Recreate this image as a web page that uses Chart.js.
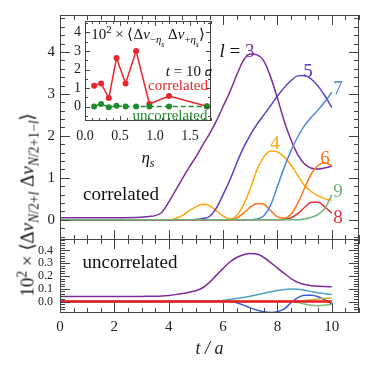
<!DOCTYPE html>
<html>
<head>
<meta charset="utf-8">
<script src="https://cdn.jsdelivr.net/npm/chart.js@4.4.1/dist/chart.umd.min.js"></script>
<style>
  html, body { margin: 0; padding: 0; background: #fff; }
  #wrap { position: relative; width: 374px; height: 374px; overflow: hidden; font-family: "Liberation Serif", serif; color: #111; }
  canvas { position: absolute; }
  .lbl { position: absolute; transform: translate(-50%, -50%); white-space: nowrap; line-height: 1; }
  .lbl sub, .lbl sup { font-size: 72%; line-height: 0; }
  i { font-style: italic; }
</style>
</head>
<body>
<div id="wrap">
  <canvas id="top" width="374" height="262" style="left:0;top:0"></canvas>
  <canvas id="bot" width="374" height="155" style="left:0;top:219px"></canvas>
  <canvas id="inset" width="170" height="170" style="left:60px;top:0"></canvas>
</div>
<script>
// time grid shared by every curve (t / a)
const T = [0, 1, 2, 3, 3.25, 3.5, 3.75, 4, 4.25, 4.5, 4.75, 5, 5.25, 5.5, 5.75,
           6, 6.25, 6.5, 6.75, 7, 7.25, 7.5, 7.75, 8, 8.25, 8.5, 8.75, 9, 9.25, 9.5, 9.75, 10];

// correlated panel, one array per l
const L3 = [0.05, 0.05, 0.05, 0.06, 0.08, 0.1, 0.18, 0.42, 0.7, 0.98, 1.25, 1.5, 1.78, 2.05, 2.35,
            2.7, 3.05, 3.45, 3.8, 3.95, 3.93, 3.78, 3.4, 2.9, 2.35, 1.9, 1.55, 1.33, 1.23, 1.21, 1.24, 1.28];
const L4 = [0, 0, 0, 0, 0, 0, 0, 0, 0.03, 0.1, 0.22, 0.31, 0.37, 0.34, 0.22,
            0.09, 0.02, 0.1, 0.36, 0.74, 1.2, 1.5, 1.64, 1.62, 1.5, 1.3, 1.05, 0.82, 0.67, 0.57, 0.5, 0.47];
const L5 = [0, 0, 0, 0, 0, 0, 0, 0, 0, 0, 0, 0.01, 0.03, 0.08, 0.28,
            0.6, 0.95, 1.35, 1.72, 2.02, 2.28, 2.5, 2.72, 2.95, 3.15, 3.32, 3.43, 3.44, 3.35, 3.18, 2.95, 2.68];
const L6 = [0, 0, 0, 0, 0, 0, 0, 0, 0, 0, 0, 0, 0, 0, 0,
            0, 0, 0.04, 0.16, 0.3, 0.39, 0.37, 0.22, 0.07, 0.04, 0.14, 0.4, 0.76, 1.1, 1.3, 1.36, 1.29];
const L7 = [0, 0, 0, 0, 0, 0, 0, 0, 0, 0, 0, 0, 0, 0, 0,
            0, 0, 0, 0, 0, 0.02, 0.1, 0.35, 0.8, 1.25, 1.65, 1.98, 2.25, 2.45, 2.62, 2.82, 3.04];
const L8 = [0, 0, 0, 0, 0, 0, 0, 0, 0, 0, 0, 0, 0, 0, 0,
            0, 0, 0, 0, 0, 0, 0, 0, 0, 0.01, 0.05, 0.15, 0.3, 0.42, 0.42, 0.3, 0.16];
const L9 = [0, 0, 0, 0, 0, 0, 0, 0, 0, 0, 0, 0, 0, 0, 0,
            0, 0, 0, 0, 0, 0, 0, 0, 0, 0, 0, 0, 0.02, 0.06, 0.13, 0.28, 0.6];

// uncorrelated panel
const U_PURPLE = [0.04, 0.04, 0.04, 0.04, 0.041, 0.042, 0.044, 0.048, 0.054, 0.062, 0.073, 0.085, 0.108, 0.15, 0.205,
                  0.26, 0.31, 0.345, 0.367, 0.376, 0.372, 0.345, 0.305, 0.262, 0.22, 0.18, 0.15, 0.133, 0.124, 0.12, 0.117, 0.115];
const U_TEAL = [0, 0, 0, 0, 0, 0, 0, 0, 0, 0, 0, 0, 0, 0, 0.003,
                0.008, 0.015, 0.023, 0.032, 0.042, 0.053, 0.064, 0.076, 0.087, 0.095, 0.098, 0.096, 0.088, 0.078, 0.068, 0.06, 0.055];
const U_BLUE = [0, 0, 0, 0, 0, 0, 0, 0, 0, 0, 0, 0, 0, 0, 0.004,
                0.005, 0.002, -0.01, -0.028, -0.05, -0.068, -0.08, -0.086, -0.08, -0.058, -0.01, 0.03, 0.05, 0.05, 0.038, 0.012, -0.018];
const U_OLIVE = [0, 0, 0, 0, 0, 0, 0, 0, 0, 0, 0, 0, 0, 0, 0,
                 0, 0, 0, 0, 0, 0, 0, 0, 0, 0, 0, 0.003, 0.008, 0.014, 0.02, 0.025, 0.028];
const U_GREEN = [0, 0, 0, 0, 0, 0, 0, 0, 0, 0, 0, 0, 0, 0, 0,
                 0, 0, 0, 0, 0, 0, 0, 0, 0, 0, 0, -0.008, -0.02, -0.03, -0.033, -0.028, -0.02];
const U_RED = T.map(() => 0);

// inset, t = 10 a
const ETA = [0.13, 0.23, 0.34, 0.45, 0.58, 0.73, 0.92, 1.2, 1.74];
const INSET_CORR = [1.12, 1.25, 0.46, 2.62, 1.25, 3.0, 0.14, 0.57, 0.02];
const INSET_UNCORR = [0, 0.14, -0.04, 0.04, 0, 0, 0, 0, 0];

// tick labels
const X_TICKS = [0, 2, 4, 6, 8, 10];
const TOP_Y_TICKS = [0, 1, 2, 3, 4];
const BOT_Y_TICKS = [0, 0.1, 0.2, 0.3, 0.4];
const INSET_X_TICKS = [0, 0.5, 1, 1.5];
const INSET_Y_TICKS = [0, 1, 2, 3, 4];

const FONT = '"Liberation Serif", serif';

// cadre + petits traits des axes, sur les 4 côtés
const frame = {
  id: 'frame',
  beforeDraw(chart, args, o) {
    if (!o.fill) return;
    const a = chart.chartArea, ctx = chart.ctx;
    ctx.save();
    ctx.fillStyle = o.fill;
    ctx.fillRect(a.left, a.top, a.right - a.left, a.bottom - a.top);
    ctx.restore();
  },
  afterDraw(chart, args, o) {
    const { ctx, chartArea: a } = chart;
    const xs = chart.scales.x, ys = chart.scales.y;
    const seq = (min, max, step) => {
      const out = [];
      for (let k = Math.ceil(min / step - 1e-9); k * step <= max + 1e-9; k++) out.push(k * step);
      return out;
    };
    const line = (x1, y1, x2, y2) => { ctx.beginPath(); ctx.moveTo(x1, y1); ctx.lineTo(x2, y2); ctx.stroke(); };
    ctx.save();
    ctx.strokeStyle = o.color;
    ctx.lineWidth = 1;
    [[o.xMinor, o.minorLen], [o.xMajor, o.majorLen]].forEach(([step, len]) => {
      seq(xs.min, xs.max, step).forEach(v => {
        const px = Math.round(xs.getPixelForValue(v)) + 0.5;
        line(px, a.bottom, px, a.bottom - len);
        line(px, a.top, px, a.top + len);
      });
    });
    [[o.yMinor, o.minorLen], [o.yMajor, o.majorLen]].forEach(([step, len]) => {
      seq(ys.min, ys.max, step).forEach(v => {
        const py = Math.round(ys.getPixelForValue(v)) + 0.5;
        line(a.left, py, a.left + len, py);
        line(a.right, py, a.right - len, py);
      });
    });
    ctx.strokeRect(a.left + 0.5, a.top + 0.5, a.right - a.left - 1, a.bottom - a.top - 1);
    ctx.restore();
  }
};

function series(xs, ys, color, width) {
  return {
    data: xs.map((x, i) => ({ x: x, y: ys[i] })),
    borderColor: color,
    borderWidth: width || 1.5,
    pointRadius: 0,
    fill: false,
    cubicInterpolationMode: 'monotone'
  };
}

function fixedTicks(list) {
  return scale => { scale.ticks = list.map(v => ({ value: v })); };
}

const baseOpts = {
  responsive: false,
  animation: false,
  events: [],
  plugins: { legend: { display: false }, tooltip: { enabled: false } }
};

// --- panneau du haut (correlated) ---
new Chart(document.getElementById('top'), {
  type: 'line',
  data: {
    datasets: [
      series(T, L9, '#6fb47c'),
      series(T, L8, '#e0323c'),
      series(T, L7, '#4a88dc'),
      series(T, L6, '#ff7418'),
      series(T, L5, '#5a3cc6'),
      series(T, L4, '#ffa608'),
      series(T, L3, '#7d2c9e')
    ]
  },
  plugins: [frame],
  options: Object.assign({}, baseOpts, {
    layout: { padding: { top: 15, right: 15, left: 0, bottom: 22 } },
    plugins: Object.assign({}, baseOpts.plugins, {
      frame: { color: '#444', xMajor: 2, xMinor: 0.5, yMajor: 1, yMinor: 0.2, majorLen: 10, minorLen: 5 }
    }),
    scales: {
      x: { type: 'linear', min: 0, max: 11, display: false },
      y: {
        type: 'linear', min: -0.48, max: 4.88,
        afterFit: s => { s.width = 60; },
        afterBuildTicks: fixedTicks(TOP_Y_TICKS),
        grid: { display: false, drawTicks: false },
        border: { display: false },
        ticks: { padding: 5, color: '#222', font: { family: FONT, size: 15 }, callback: v => String(v) }
      }
    }
  })
});

// --- panneau du bas (uncorrelated) ---
new Chart(document.getElementById('bot'), {
  type: 'line',
  data: {
    datasets: [
      series(T, U_RED, '#e81c22', 2.5),
      series(T, U_GREEN, '#7cbc74'),
      series(T, U_OLIVE, '#c9b444'),
      series(T, U_BLUE, '#3d5cd8'),
      series(T, U_TEAL, '#4aa4c2'),
      series(T, U_PURPLE, '#7d2c9e')
    ]
  },
  plugins: [frame],
  options: Object.assign({}, baseOpts, {
    layout: { padding: { top: 20, right: 15, left: 0, bottom: 0 } },
    plugins: Object.assign({}, baseOpts.plugins, {
      frame: { color: '#444', xMajor: 2, xMinor: 0.5, yMajor: 0.1, yMinor: 0.02, majorLen: 10, minorLen: 5 }
    }),
    scales: {
      x: {
        type: 'linear', min: 0, max: 11,
        afterFit: s => { s.height = 61; },
        afterBuildTicks: fixedTicks(X_TICKS),
        grid: { display: false, drawTicks: false },
        border: { display: false },
        ticks: { padding: 5, maxRotation: 0, color: '#222', font: { family: FONT, size: 15 }, callback: v => String(v) },
        title: { display: true, text: 't / a', color: '#222', padding: { top: 0, bottom: 14 },
                 font: { family: FONT, size: 18, style: 'italic' } }
      },
      y: {
        type: 'linear', min: -0.09, max: 0.49,
        afterFit: s => { s.width = 60; },
        afterBuildTicks: fixedTicks(BOT_Y_TICKS),
        grid: { display: false, drawTicks: false },
        border: { display: false },
        ticks: { padding: 7, color: '#222', font: { family: FONT, size: 12 }, callback: v => v.toFixed(1) }
      }
    }
  })
});

// --- encart ---
new Chart(document.getElementById('inset'), {
  type: 'line',
  data: {
    datasets: [
      Object.assign(series(ETA, INSET_UNCORR, '#1e8c2e', 1.5), {
        borderDash: [5, 3], pointRadius: 3, pointBackgroundColor: '#1e8c2e', pointBorderWidth: 0,
        cubicInterpolationMode: 'default', tension: 0
      }),
      Object.assign(series(ETA, INSET_CORR, '#e8262c', 1.5), {
        pointRadius: 3, pointBackgroundColor: '#e8262c', pointBorderWidth: 0,
        cubicInterpolationMode: 'default', tension: 0
      })
    ]
  },
  plugins: [frame],
  options: Object.assign({}, baseOpts, {
    layout: { padding: { top: 21, right: 19, left: 0, bottom: 0 } },
    plugins: Object.assign({}, baseOpts.plugins, {
      frame: { fill: '#fff', color: '#444', xMajor: 0.5, xMinor: 0.1, yMajor: 1, yMinor: 0.5, majorLen: 5, minorLen: 3 }
    }),
    scales: {
      x: {
        type: 'linear', min: 0, max: 1.8,
        afterFit: s => { s.height = 49; },
        afterBuildTicks: fixedTicks(INSET_X_TICKS),
        grid: { display: false, drawTicks: false },
        border: { display: false },
        ticks: { padding: 7, maxRotation: 0, color: '#222', font: { family: FONT, size: 14 }, callback: v => v.toFixed(1) }
      },
      y: {
        type: 'linear', min: -0.78, max: 4.62,
        afterFit: s => { s.width = 25; },
        afterBuildTicks: fixedTicks(INSET_Y_TICKS),
        grid: { display: false, drawTicks: false },
        border: { display: false },
        ticks: { padding: 4, color: '#222', font: { family: FONT, size: 14 }, callback: v => String(v) }
      }
    }
  })
});

// textes
const wrap = document.getElementById('wrap');
function addLabel(html, x, y, css) {
  const d = document.createElement('div');
  d.className = 'lbl';
  d.innerHTML = html;
  d.style.left = x + 'px';
  d.style.top = y + 'px';
  Object.assign(d.style, css || {});
  wrap.appendChild(d);
  return d;
}

const yTitle = addLabel('10<sup>2</sup> &times; &#10216;&Delta;<i>&nu;</i><sub><i>N</i>/2+<i>l</i></sub> &Delta;<i>&nu;</i><sub><i>N</i>/2+1&minus;<i>l</i></sub>&#10217;',
  27, 205, { fontSize: '19px' });
yTitle.style.transform = 'translate(-50%, -50%) rotate(-90deg)';

addLabel('<i>l</i> = <span style="color:#7d2c9e">3</span>', 237, 50, { fontSize: '19px' });
addLabel('5', 308, 70, { fontSize: '19px', color: '#5a3cc6' });
addLabel('7', 338, 87, { fontSize: '19px', color: '#4a88dc' });
addLabel('4', 275, 142, { fontSize: '19px', color: '#ffa608' });
addLabel('6', 325, 157, { fontSize: '19px', color: '#ff7418' });
addLabel('9', 338, 190, { fontSize: '19px', color: '#6fb47c' });
addLabel('8', 338, 216, { fontSize: '19px', color: '#e0323c' });
addLabel('correlated', 121, 193, { fontSize: '19px' });
addLabel('uncorrelated', 130, 261, { fontSize: '19px' });

addLabel('10<sup>2</sup> &times; &#10216;&Delta;<i>&nu;</i><sub>&minus;<i>&eta;<sub>s</sub></i></sub> &Delta;<i>&nu;</i><sub>+<i>&eta;<sub>s</sub></i></sub>&#10217;',
  148, 36, { fontSize: '15px' });
addLabel('<i>t</i> = 10 <i>a</i>', 189, 71, { fontSize: '15px' });
addLabel('correlated', 178, 85, { fontSize: '15px', color: '#e8262c' });
addLabel('uncorrelated', 170, 115, { fontSize: '15px', color: '#1e8c2e' });
addLabel('<i>&eta;<sub>s</sub></i>', 148, 157, { fontSize: '17px' });
</script>
</body>
</html>
